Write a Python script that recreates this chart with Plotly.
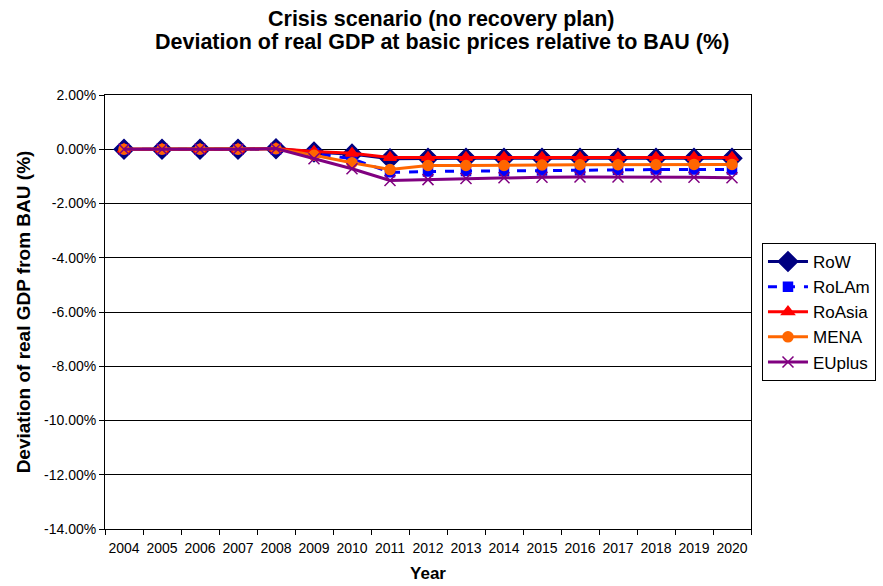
import plotly.graph_objects as go

years = [str(y) for y in range(2004, 2021)]

# Deviation of real GDP from BAU, in percent
row = [0.0, 0.0, 0.0, 0.0, 0.02, -0.1, -0.18, -0.35, -0.33, -0.33, -0.33, -0.33, -0.33, -0.33, -0.33, -0.33, -0.33]
rolam = [0.0, 0.0, 0.0, 0.0, 0.0, -0.15, -0.35, -0.85, -0.82, -0.8, -0.8, -0.78, -0.77, -0.76, -0.75, -0.75, -0.75]
roasia = [0.0, 0.0, 0.0, 0.0, 0.03, -0.08, -0.15, -0.3, -0.3, -0.3, -0.3, -0.3, -0.3, -0.3, -0.3, -0.3, -0.3]
mena = [0.0, 0.0, 0.0, 0.0, 0.02, -0.22, -0.5, -0.75, -0.6, -0.6, -0.6, -0.58, -0.57, -0.57, -0.57, -0.56, -0.56]
euplus = [0.0, 0.0, 0.0, 0.0, 0.03, -0.35, -0.72, -1.15, -1.12, -1.08, -1.05, -1.03, -1.02, -1.02, -1.02, -1.03, -1.05]

y_ticks = [2, 0, -2, -4, -6, -8, -10, -12, -14]
y_tick_text = ["%.2f%%" % v for v in y_ticks]

title_lines = [
    "Crisis scenario (no recovery plan)",
    "Deviation of real GDP at basic prices relative to BAU (%)",
]

series = [
    ("RoW", row, "#000080", "solid", "diamond", 15),
    ("RoLAm", rolam, "#0000FF", "dash", "square", 9),
    ("RoAsia", roasia, "#FF0000", "solid", "triangle-up", 11),
    ("MENA", mena, "#FF6600", "solid", "circle", 10),
    ("EUplus", euplus, "#800080", "solid", "x-thin-open", 11),
]

fig = go.Figure()
for name, vals, color, dash, symbol, size in series:
    fig.add_trace(go.Scatter(
        x=years, y=vals, name=name, mode="lines+markers", legendgroup=name,
        line=dict(color=color, width=3, dash=dash),
        marker=dict(symbol=symbol, size=size, color=color,
                    line=dict(color=color, width=1.5)),
    ))

# Two-line chart heading, placed above the plot area
for i, line in enumerate(title_lines):
    fig.add_annotation(
        text="<b>%s</b>" % line, xref="paper", yref="paper",
        x=0.521, y=1.175 - 0.054 * i, xanchor="center", yanchor="middle",
        showarrow=False, font=dict(size=21.5, color="black"),
    )

fig.update_layout(
    width=883, height=586,
    margin=dict(l=105, r=132, t=95, b=57, autoexpand=False),
    paper_bgcolor="white", plot_bgcolor="white",
    font=dict(family="Liberation Sans, Arial, sans-serif", size=14, color="black"),
    showlegend=True,
    legend=dict(
        x=1.017, xanchor="left", y=0.5, yanchor="middle",
        bordercolor="black", borderwidth=1, bgcolor="white",
        font=dict(size=17), tracegroupgap=0, itemwidth=40,
    ),
    xaxis=dict(
        type="category", range=[-0.5, 16.5], tickson="boundaries",
        ticks="outside", ticklen=5, tickangle=0, ticklabelstandoff=6,
        tickcolor="black", showline=True, linecolor="black", linewidth=1,
        mirror=True, showgrid=False, automargin=False,
        title=dict(text="<b>Year</b>", font=dict(size=17), standoff=12),
    ),
    yaxis=dict(
        range=[-14, 2], tickvals=y_ticks, ticktext=y_tick_text,
        ticks="outside", ticklen=5, tickcolor="black",
        showline=True, linecolor="black", linewidth=1, mirror=True,
        showgrid=True, gridcolor="black", gridwidth=1, zeroline=False,
        automargin=False,
        title=dict(text="<b>Deviation of real GDP from BAU (%)</b>", font=dict(size=19), standoff=8),
    ),
)

fig.write_html("out.html")
